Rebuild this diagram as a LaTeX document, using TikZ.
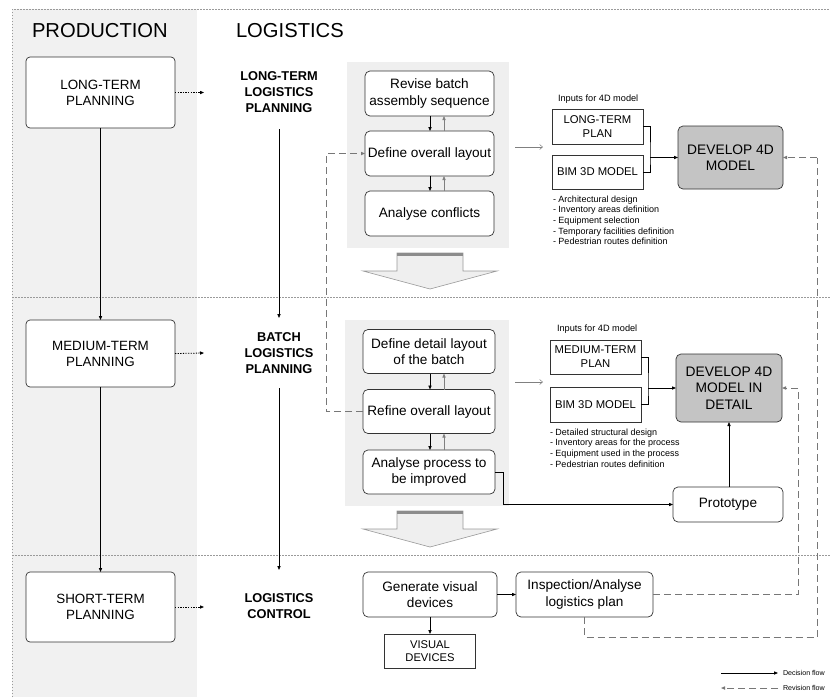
\documentclass[tikz,border=0pt]{standalone}
\usepackage{fontspec}
\setmainfont{Liberation Sans}
\usetikzlibrary{arrows.meta}
\definecolor{colgray}{HTML}{F1F1F1}
\definecolor{panelgray}{HTML}{EFEFEF}
\definecolor{devgray}{HTML}{C4C4C4}
\definecolor{lineg}{HTML}{333333}
\definecolor{revg}{HTML}{777777}
\definecolor{sepg}{HTML}{9A9A9A}
\begin{document}
\begin{tikzpicture}[x=1pt,y=-1pt,
  every node/.style={inner sep=0pt, outer sep=0pt},
  prodbox/.style={draw=lineg, rounded corners=4pt, fill=white, align=center, line width=0.7pt, font=\fontsize{13.4}{16}\selectfont},
  pbox/.style={draw=lineg, rounded corners=5pt, fill=white, align=center, line width=0.7pt, font=\fontsize{13.6}{16.5}\selectfont},
  sqbox/.style={draw=lineg, fill=white, align=center, line width=0.7pt, font=\fontsize{11.3}{14}\selectfont},
  devbox/.style={draw=lineg, rounded corners=5pt, fill=devgray, align=center, line width=0.7pt, font=\fontsize{13.8}{16.5}\selectfont},
  loglab/.style={font=\bfseries\fontsize{12.8}{16}\selectfont, align=center},
  headlab/.style={font=\fontsize{20.2}{22}\selectfont, anchor=west},
  smalllab/.style={font=\fontsize{9.2}{10}\selectfont, anchor=west},
  bullets/.style={font=\fontsize{9}{10.7}\selectfont, align=left, anchor=north west},
  legendlab/.style={font=\fontsize{7.1}{8}\selectfont, anchor=west},
  arr/.style={-{Triangle[length=4pt,width=3.2pt]}, line width=0.8pt, draw=black},
  uparr/.style={-{Triangle[length=4pt,width=3.2pt]}, line width=0.8pt, draw=gray},
  thinarr/.style={-{Straight Barb[length=3pt,width=5pt]}, line width=0.5pt, draw=gray},
  dotarr/.style={-{Triangle[length=4pt,width=3.2pt]}, line width=0.8pt, dash pattern=on 1.3pt off 1.3pt},
  revarr/.style={-{Triangle[length=4pt,width=3.2pt]}, draw=revg, dash pattern=on 7pt off 4pt, line width=0.9pt},
  revline/.style={draw=revg, dash pattern=on 7pt off 4pt, line width=0.9pt},
  sepline/.style={draw=sepg, dash pattern=on 1.5pt off 1.5pt, line width=0.7pt},
  hollow/.style={fill=panelgray, draw=gray!80, line width=0.6pt}
]
\useasboundingbox (0,0) rectangle (830,697);
\fill[white] (0,0) rectangle (830,697);
% production column
\fill[colgray] (12,9) rectangle (197,697);
% borders and separators
\draw[sepline] (12,697) -- (12,9) -- (830,9);
\draw[sepline] (12,297) -- (830,297);
\draw[sepline] (12,555) -- (830,555);

% headings
\node[headlab] (hprod) at (32,31) {PRODUCTION};
\node[headlab] (hlog) at (236,31) {LOGISTICS};

% production boxes
\node[prodbox, minimum width=149, minimum height=71] (lt) at (100.5,92.5) {LONG-TERM\\PLANNING};
\node[prodbox, minimum width=149, minimum height=67] (mt) at (100.5,353.5) {MEDIUM-TERM\\PLANNING};
\node[prodbox, minimum width=149, minimum height=70] (st) at (100.5,607) {SHORT-TERM\\PLANNING};
\draw[arr] (lt.south) -- (mt.north);
\draw[arr] (mt.south) -- (st.north);

% logistics labels
\node[loglab, minimum height=74] (ltl) at (279,92) {LONG-TERM\\LOGISTICS\\PLANNING};
\node[loglab, minimum height=70] (bl) at (279,353) {BATCH\\LOGISTICS\\PLANNING};
\node[loglab, minimum height=72] (lc) at (279,606) {LOGISTICS\\CONTROL};
\draw[arr] (ltl.south) -- (bl.north);
\draw[arr] (bl.south) -- (lc.north);

\coordinate (d1) at (204,92.5);
\coordinate (d2) at (204,353);
\coordinate (d3) at (204,607);
\draw[dotarr] (lt.east) -- (d1);
\draw[dotarr] (mt.east) -- (d2);
\draw[dotarr] (st.east) -- (d3);

% panels
\node[fill=panelgray, minimum width=162, minimum height=186] (p1) at (428,155) {};
\node[fill=panelgray, minimum width=164, minimum height=186] (p2) at (427,413) {};

% panel 1 boxes
\node[pbox, minimum width=129, minimum height=45] (rev) at (429.5,93.5) {Revise batch\\assembly sequence};
\node[pbox, minimum width=129, minimum height=45] (dol) at (429.5,153.5) {Define overall layout};
\node[pbox, minimum width=129, minimum height=45] (ac) at (429.5,213.5) {Analyse conflicts};
\draw[arr] ([xshift=0.5]rev.south) -- ([xshift=0.5]dol.north);
\draw[uparr] ([xshift=14.5]dol.north) -- ([xshift=14.5]rev.south);
\draw[arr] ([xshift=0.5]dol.south) -- ([xshift=0.5]ac.north);
\draw[uparr] ([xshift=14.5]ac.north) -- ([xshift=14.5]dol.south);

% panel 2 boxes
\node[pbox, minimum width=132, minimum height=44] (ddl) at (429,351.5) {Define detail layout\\of the batch};
\node[pbox, minimum width=132, minimum height=44] (rol) at (429,411.5) {Refine overall layout};
\node[pbox, minimum width=132, minimum height=44] (ap) at (429,472) {Analyse process to\\be improved};
\draw[arr] ([xshift=1]ddl.south) -- ([xshift=1]rol.north);
\draw[uparr] ([xshift=15]rol.north) -- ([xshift=15]ddl.south);
\draw[arr] ([xshift=1]rol.south) -- ([xshift=1]ap.north);
\draw[uparr] ([xshift=15]ap.north) -- ([xshift=15]rol.south);

% hollow arrows
\draw[hollow] (397,253) -- (463,253) -- (463,271) -- (497,271) -- (430,289) -- (363,271) -- (397,271) -- cycle;
\draw[draw=gray!90, line width=3pt] (397,254.5) -- (463,254.5);
\draw[hollow] (397,511) -- (463,511) -- (463,529) -- (497,529) -- (430,547) -- (363,529) -- (397,529) -- cycle;
\draw[draw=gray!90, line width=3pt] (397,512.5) -- (463,512.5);

% revision between refine and define overall
\draw[revarr] (rol.west) -- ++(-37,0) |- (dol.west);

% top-right: 4D model
\node[smalllab] (in1) at (558,99) {Inputs for 4D model};
\coordinate (ga1) at (515,147);
\coordinate (gb1) at (543,147);
\draw[thinarr] (ga1) -- (gb1);
\node[sqbox, minimum width=91, minimum height=35] (ltp) at (597.5,126.5) {LONG-TERM\\PLAN};
\node[sqbox, minimum width=91, minimum height=34] (bim1) at (597.5,172) {BIM 3D MODEL};
\node[devbox, minimum width=105, minimum height=63] (d4) at (730.5,157.5) {DEVELOP 4D\\MODEL};
\coordinate (br1) at (650,157.5);
\draw[line width=0.8pt] (ltp.east) -| (br1) |- (bim1.east);
\draw[arr] (br1) -- (d4.west);
\node[bullets] (bl1) at (553,195.5) {- Architectural design\\- Inventory areas definition\\- Equipment selection\\- Temporary facilities definition\\- Pedestrian routes definition};

% middle-right
\node[smalllab] (in2) at (557,329) {Inputs for 4D model};
\coordinate (ga2) at (515,382);
\coordinate (gb2) at (543,382);
\draw[thinarr] (ga2) -- (gb2);
\node[sqbox, minimum width=91, minimum height=34] (mtp) at (595.5,357) {MEDIUM-TERM\\PLAN};
\node[sqbox, minimum width=91, minimum height=35] (bim2) at (595.5,404.5) {BIM 3D MODEL};
\node[devbox, minimum width=106, minimum height=68] (d4d) at (729,388) {DEVELOP 4D\\MODEL IN\\DETAIL};
\coordinate (br2) at (648,388);
\draw[line width=0.8pt] (mtp.east) -| (br2) |- (bim2.east);
\draw[arr] (br2) -- (d4d.west);
\node[bullets] (bl2) at (550,428.5) {- Detailed structural design\\- Inventory areas for the process\\- Equipment used in the process\\- Pedestrian routes definition};
\node[pbox, minimum width=110, minimum height=35] (proto) at (728,504.5) {Prototype};
\draw[arr] (proto.north -| d4d.south) -- (d4d.south);
\draw[arr] (ap.east) -- ++(8,0) |- (proto.west);

% bottom
\node[pbox, minimum width=134, minimum height=45] (gvd) at (430,594.5) {Generate visual\\devices};
\node[pbox, minimum width=137, minimum height=45] (ins) at (584.5,594.5) {Inspection/Analyse\\logistics plan};
\node[sqbox, minimum width=91, minimum height=34, font=\fontsize{11.2}{13.5}\selectfont] (vd) at (430,651) {VISUAL\\DEVICES};
\draw[arr] (gvd.east) -- (ins.west);
\draw[arr] (gvd.south) -- (vd.north);

% revision loops
\coordinate (rr1) at (798,594.5);
\draw[revline] (ins.east) -- (rr1) -- (rr1 |- d4d.east);
\draw[revarr] (rr1 |- d4d.east) -- (d4d.east);
\coordinate (rb) at (817,637);
\draw[revline] (ins.south) |- (rb) -- (rb |- d4.east);
\draw[revarr] (rb |- d4.east) -- (d4.east);

% legend
\coordinate (la) at (721,673);
\coordinate (lb) at (778,673);
\draw[arr] (la) -- (lb);
\node[legendlab] (ldec) at (783,673) {Decision flow};
\coordinate (lc1) at (778,688);
\coordinate (ld1) at (721,688);
\draw[revarr] (lc1) -- (ld1);
\node[legendlab] (lrev) at (783,688) {Revision flow};
\end{tikzpicture}
\end{document}
